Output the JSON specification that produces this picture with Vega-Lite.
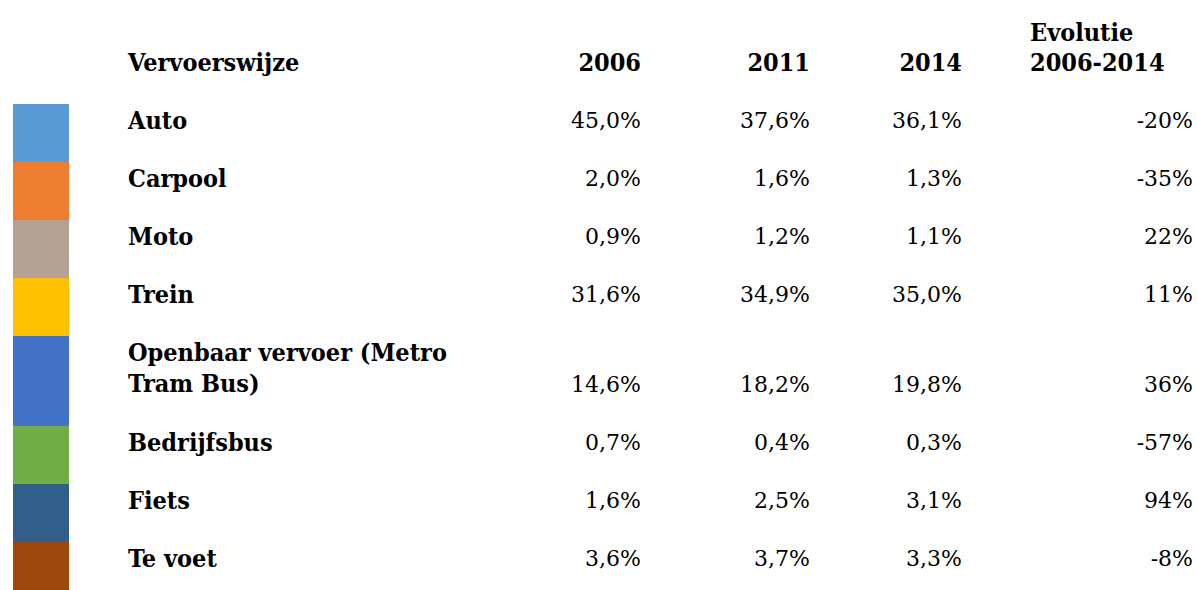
{
  "$schema": "https://vega.github.io/schema/vega-lite/v6.json",
  "width": 1197,
  "height": 590,
  "autosize": {"type": "fit", "contains": "padding"},
  "padding": 0,
  "background": "white",
  "data": {
    "values": [
      {"Vervoerswijze": "Auto", "j2006": 0.450, "j2011": 0.376, "j2014": 0.361, "evolutie": -0.20},
      {"Vervoerswijze": "Carpool", "j2006": 0.020, "j2011": 0.016, "j2014": 0.013, "evolutie": -0.35},
      {"Vervoerswijze": "Moto", "j2006": 0.009, "j2011": 0.012, "j2014": 0.011, "evolutie": 0.22},
      {"Vervoerswijze": "Trein", "j2006": 0.316, "j2011": 0.349, "j2014": 0.350, "evolutie": 0.11},
      {"Vervoerswijze": "Openbaar vervoer (Metro\nTram Bus)", "j2006": 0.146, "j2011": 0.182, "j2014": 0.198, "evolutie": 0.36},
      {"Vervoerswijze": "Bedrijfsbus", "j2006": 0.007, "j2011": 0.004, "j2014": 0.003, "evolutie": -0.57},
      {"Vervoerswijze": "Fiets", "j2006": 0.016, "j2011": 0.025, "j2014": 0.031, "evolutie": 0.94},
      {"Vervoerswijze": "Te voet", "j2006": 0.036, "j2011": 0.037, "j2014": 0.033, "evolutie": -0.08}
    ]
  },
  "transform": [
    {"calculate": "length(split(datum.Vervoerswijze, '\\n'))", "as": "regels"},
    {"calculate": "26 + 32 * datum.regels", "as": "hoogte"},
    {"window": [{"op": "sum", "field": "hoogte", "as": "eind"}]},
    {"calculate": "datum.eind - datum.hoogte", "as": "begin"}
  ],
  "layer": [
    {
      "mark": {"type": "rect", "clip": true},
      "encoding": {
        "x": {"datum": 0, "type": "quantitative", "axis": null,
              "scale": {"domain": [0, 1, 2, 3, 4, 5, 6, 7], "range": [13, 69, 128, 641, 810, 962, 1030, 1193], "zero": false, "nice": false}},
        "x2": {"datum": 1},
        "y": {"field": "begin", "type": "quantitative", "axis": null,
              "scale": {"domain": [-104, 486], "reverse": true, "zero": false, "nice": false}},
        "y2": {"field": "eind"},
        "color": {"field": "Vervoerswijze", "type": "nominal", "legend": null, "sort": null,
                  "scale": {"domain": ["Auto", "Carpool", "Moto", "Trein", "Openbaar vervoer (Metro\nTram Bus)", "Bedrijfsbus", "Fiets", "Te voet"],
                            "range": ["#5B9BD5", "#ED7D31", "#B5A297", "#FFC000", "#4472C4", "#70AD47", "#315F8A", "#9E480E"]}}
      }
    },
    {
      "mark": {"type": "text", "align": "left", "baseline": "alphabetic", "dy": 25, "lineBreak": "\n", "lineHeight": 31,
               "font": "DejaVu Serif Condensed", "fontWeight": "bold", "fontSize": 25, "color": "#000000"},
      "encoding": {
        "x": {"datum": 2, "type": "quantitative"},
        "y": {"field": "begin", "type": "quantitative"},
        "text": {"field": "Vervoerswijze"}
      }
    },
    {
      "mark": {"type": "text", "align": "right", "baseline": "alphabetic", "dy": -34,
               "font": "DejaVu Serif", "fontSize": 22, "color": "#000000"},
      "encoding": {
        "x": {"datum": 3, "type": "quantitative"},
        "y": {"field": "eind", "type": "quantitative"},
        "text": {"field": "j2006", "format": ".1%"}
      }
    },
    {
      "mark": {"type": "text", "align": "right", "baseline": "alphabetic", "dy": -34,
               "font": "DejaVu Serif", "fontSize": 22, "color": "#000000"},
      "encoding": {
        "x": {"datum": 4, "type": "quantitative"},
        "y": {"field": "eind", "type": "quantitative"},
        "text": {"field": "j2011", "format": ".1%"}
      }
    },
    {
      "mark": {"type": "text", "align": "right", "baseline": "alphabetic", "dy": -34,
               "font": "DejaVu Serif", "fontSize": 22, "color": "#000000"},
      "encoding": {
        "x": {"datum": 5, "type": "quantitative"},
        "y": {"field": "eind", "type": "quantitative"},
        "text": {"field": "j2014", "format": ".1%"}
      }
    },
    {
      "mark": {"type": "text", "align": "right", "baseline": "alphabetic", "dy": -34,
               "font": "DejaVu Serif", "fontSize": 22, "color": "#000000"},
      "encoding": {
        "x": {"datum": 7, "type": "quantitative"},
        "y": {"field": "eind", "type": "quantitative"},
        "text": {"field": "evolutie", "format": ".0%"}
      }
    },
    {
      "data": {"values": [{}]},
      "mark": {"type": "text", "align": "left", "baseline": "alphabetic", "dy": -33, "text": "Vervoerswijze",
               "font": "DejaVu Serif Condensed", "fontWeight": "bold", "fontSize": 25, "color": "#000000"},
      "encoding": {"x": {"datum": 2, "type": "quantitative"}, "y": {"datum": 0, "type": "quantitative"}}
    },
    {
      "data": {"values": [{}]},
      "mark": {"type": "text", "align": "right", "baseline": "alphabetic", "dy": -33, "text": "2006",
               "font": "DejaVu Serif Condensed", "fontWeight": "bold", "fontSize": 25, "color": "#000000"},
      "encoding": {"x": {"datum": 3, "type": "quantitative"}, "y": {"datum": 0, "type": "quantitative"}}
    },
    {
      "data": {"values": [{}]},
      "mark": {"type": "text", "align": "right", "baseline": "alphabetic", "dy": -33, "text": "2011",
               "font": "DejaVu Serif Condensed", "fontWeight": "bold", "fontSize": 25, "color": "#000000"},
      "encoding": {"x": {"datum": 4, "type": "quantitative"}, "y": {"datum": 0, "type": "quantitative"}}
    },
    {
      "data": {"values": [{}]},
      "mark": {"type": "text", "align": "right", "baseline": "alphabetic", "dy": -33, "text": "2014",
               "font": "DejaVu Serif Condensed", "fontWeight": "bold", "fontSize": 25, "color": "#000000"},
      "encoding": {"x": {"datum": 5, "type": "quantitative"}, "y": {"datum": 0, "type": "quantitative"}}
    },
    {
      "data": {"values": [{}]},
      "mark": {"type": "text", "align": "left", "baseline": "alphabetic", "dy": -63, "lineHeight": 30, "text": ["Evolutie", "2006-2014"],
               "font": "DejaVu Serif Condensed", "fontWeight": "bold", "fontSize": 25, "color": "#000000"},
      "encoding": {"x": {"datum": 6, "type": "quantitative"}, "y": {"datum": 0, "type": "quantitative"}}
    }
  ],
  "config": {
    "view": {"stroke": null},
    "locale": {"number": {"decimal": ",", "thousands": ".", "grouping": [3], "currency": ["€", ""], "minus": "-", "percent": "%"}}
  }
}
